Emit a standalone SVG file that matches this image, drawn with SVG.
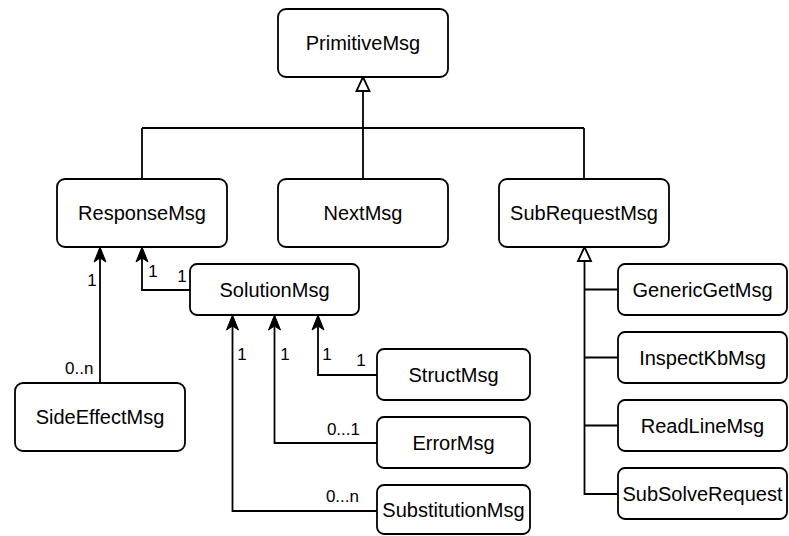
<svg xmlns="http://www.w3.org/2000/svg" width="789" height="536" viewBox="0 0 789 536">
  <style>
    .box { fill: #ffffff; stroke: #000000; stroke-width: 1.8; }
    .lbl { font-family: "Liberation Sans", Arial, sans-serif; font-size: 20px; fill: #000000; text-anchor: middle; }
    .mult { font-family: "Liberation Sans", Arial, sans-serif; font-size: 17px; fill: #000000; }
    .wire { fill: none; stroke: #000000; stroke-width: 1.8; }
  </style>
  <defs>
    <!-- filled association arrowhead, pointing up, tip at origin -->
    <path id="assoc" d="M0,0 L6,15 L0,11 L-6,15 Z" fill="#000000" stroke="#000000" stroke-width="1"/>
    <!-- hollow generalization triangle, pointing up, tip at origin -->
    <path id="gen" d="M0,0 L6.5,14 L-6.5,14 Z" fill="#ffffff" stroke="#000000" stroke-width="1.8"/>
  </defs>

  <rect width="789" height="536" fill="#ffffff"/>

  <g id="connectors">
    <!-- inheritance from PrimitiveMsg -->
    <path class="wire" d="M363,91 V179"/>
    <path class="wire" d="M142,128 H584"/>
    <path class="wire" d="M142,128 V179"/>
    <path class="wire" d="M584,128 V179"/>
    <use href="#gen" x="363" y="77"/>

    <!-- inheritance from SubRequestMsg -->
    <path class="wire" d="M584.5,261 V494 H618"/>
    <path class="wire" d="M584.5,289.5 H618"/>
    <path class="wire" d="M584.5,357.5 H618"/>
    <path class="wire" d="M584.5,425.5 H618"/>
    <use href="#gen" x="584.5" y="247"/>

    <!-- associations to ResponseMsg -->
    <path class="wire" d="M100,383 V252"/>
    <use href="#assoc" x="100" y="247"/>
    <path class="wire" d="M190,290 H142 V252"/>
    <use href="#assoc" x="142" y="247"/>

    <!-- associations to SolutionMsg -->
    <path class="wire" d="M377,375 H318 V320"/>
    <use href="#assoc" x="318" y="315"/>
    <path class="wire" d="M377,443 H274.5 V320"/>
    <use href="#assoc" x="274.5" y="315"/>
    <path class="wire" d="M377,511 H232.5 V320"/>
    <use href="#assoc" x="232.5" y="315"/>

    <!-- multiplicities -->
    <text class="mult" x="92" y="286" text-anchor="middle">1</text>
    <text class="mult" x="65" y="374">0..n</text>
    <text class="mult" x="153" y="277" text-anchor="middle">1</text>
    <text class="mult" x="182" y="282" text-anchor="middle">1</text>
    <text class="mult" x="242" y="360" text-anchor="middle">1</text>
    <text class="mult" x="285" y="360" text-anchor="middle">1</text>
    <text class="mult" x="327" y="360" text-anchor="middle">1</text>
    <text class="mult" x="361" y="366" text-anchor="middle">1</text>
    <text class="mult" x="360" y="435" text-anchor="end">0...1</text>
    <text class="mult" x="359" y="502" text-anchor="end">0...n</text>
  </g>

  <g id="PrimitiveMsg">
    <rect class="box" x="278" y="9" width="170" height="68" rx="8"/>
    <text class="lbl" x="363" y="50">PrimitiveMsg</text>
  </g>
  <g id="ResponseMsg">
    <rect class="box" x="57" y="179" width="170" height="68" rx="8"/>
    <text class="lbl" x="142" y="220">ResponseMsg</text>
  </g>
  <g id="NextMsg">
    <rect class="box" x="278" y="179" width="170" height="68" rx="8"/>
    <text class="lbl" x="363" y="220">NextMsg</text>
  </g>
  <g id="SubRequestMsg">
    <rect class="box" x="499" y="179" width="170" height="68" rx="8"/>
    <text class="lbl" x="584" y="220">SubRequestMsg</text>
  </g>
  <g id="SolutionMsg">
    <rect class="box" x="190" y="264" width="169" height="51" rx="7"/>
    <text class="lbl" x="274.5" y="296.5">SolutionMsg</text>
  </g>
  <g id="SideEffectMsg">
    <rect class="box" x="15" y="383" width="170" height="68" rx="8"/>
    <text class="lbl" x="100" y="424">SideEffectMsg</text>
  </g>
  <g id="StructMsg">
    <rect class="box" x="377" y="349" width="153" height="51" rx="7"/>
    <text class="lbl" x="453.5" y="381.5">StructMsg</text>
  </g>
  <g id="ErrorMsg">
    <rect class="box" x="377" y="417" width="153" height="51" rx="7"/>
    <text class="lbl" x="453.5" y="449.5">ErrorMsg</text>
  </g>
  <g id="SubstitutionMsg">
    <rect class="box" x="377" y="485" width="153" height="49" rx="7"/>
    <text class="lbl" x="453.5" y="516.5">SubstitutionMsg</text>
  </g>
  <g id="GenericGetMsg">
    <rect class="box" x="618" y="264" width="169" height="51" rx="7"/>
    <text class="lbl" x="702.5" y="296.5">GenericGetMsg</text>
  </g>
  <g id="InspectKbMsg">
    <rect class="box" x="618" y="332" width="169" height="51" rx="7"/>
    <text class="lbl" x="702.5" y="364.5">InspectKbMsg</text>
  </g>
  <g id="ReadLineMsg">
    <rect class="box" x="618" y="400" width="169" height="51" rx="7"/>
    <text class="lbl" x="702.5" y="432.5">ReadLineMsg</text>
  </g>
  <g id="SubSolveRequest">
    <rect class="box" x="618" y="468" width="169" height="51" rx="7"/>
    <text class="lbl" x="702.5" y="500.5">SubSolveRequest</text>
  </g>
</svg>
